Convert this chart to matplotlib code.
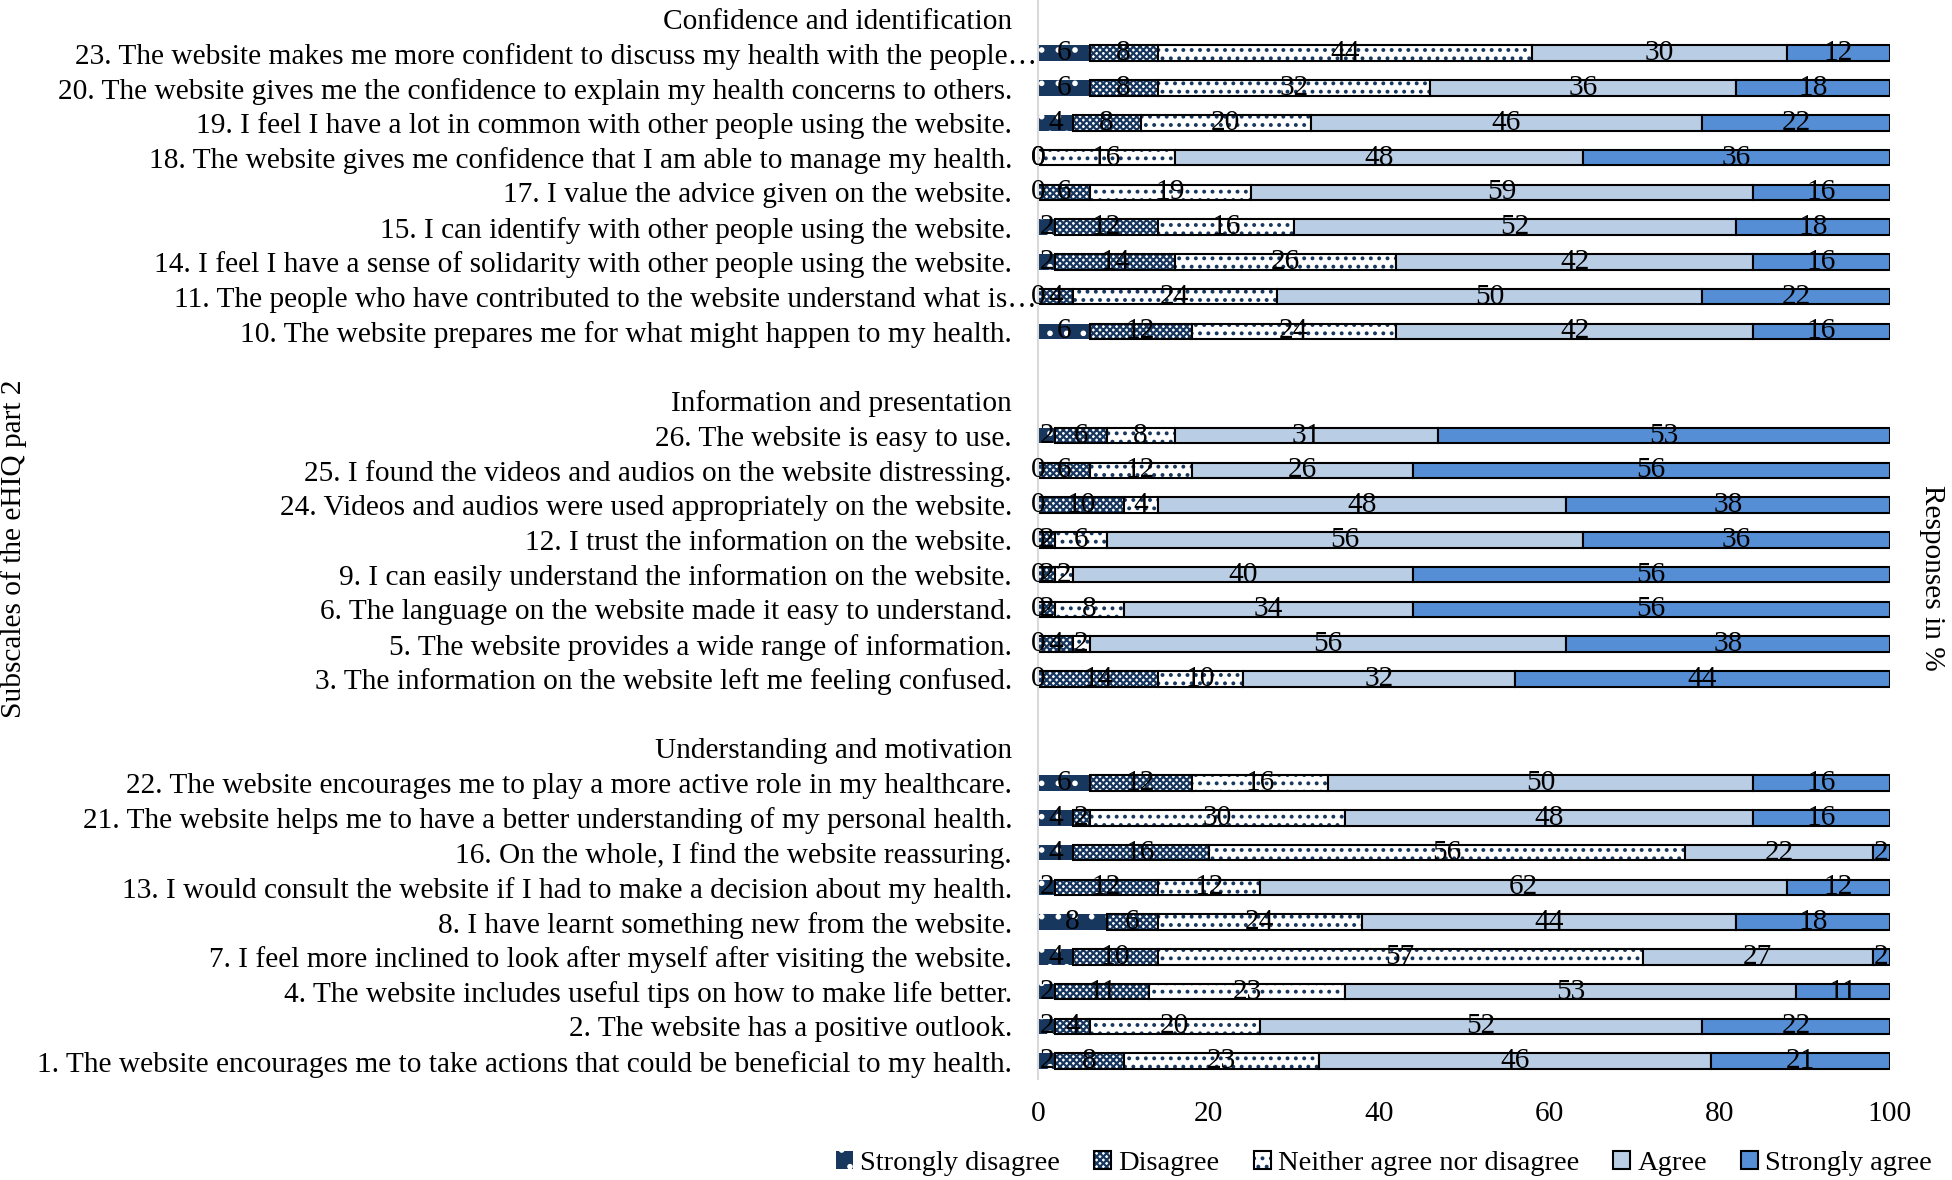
import matplotlib
matplotlib.use("Agg")
import matplotlib.pyplot as plt
import matplotlib.transforms as mtransforms
from matplotlib.patches import Patch
import numpy as np

FS = 21.2
plt.rcParams["font.family"] = ["Liberation Serif", "DejaVu Serif"]
plt.rcParams["font.size"] = FS
plt.rcParams["hatch.linewidth"] = 1.6

# subscale headers
groups = ["Confidence and identification", "Information and presentation",
          "Understanding and motivation"]

items_conf = [
  "23. The website makes me more confident to discuss my health with the people\u2026",
  "20. The website gives me the confidence to explain my health concerns to others.",
  "19. I feel I have a lot in common with other people using the website.",
  "18. The website gives me confidence that I am able to manage my health.",
  "17. I value the advice given on the website.",
  "15. I can identify with other people using the website.",
  "14. I feel I have a sense of solidarity with other people using the website.",
  "11. The people who have contributed to the website understand what is\u2026",
  "10. The website prepares me for what might happen to my health.",
]
items_info = [
  "26. The website is easy to use.",
  "25. I found the videos and audios on the website distressing.",
  "24. Videos and audios were used appropriately on the website.",
  "12. I trust the information on the website.",
  "9. I can easily understand the information on the website.",
  "6. The language on the website made it easy to understand.",
  "5. The website provides a wide range of information.",
  "3. The information on the website left me feeling confused.",
]
items_und = [
  "22. The website encourages me to play a more active role in my healthcare.",
  "21. The website helps me to have a better understanding of my personal health.",
  "16. On the whole, I find the website reassuring.",
  "13. I would consult the website if I had to make a decision about my health.",
  "8. I have learnt something new from the website.",
  "7. I feel more inclined to look after myself after visiting the website.",
  "4. The website includes useful tips on how to make life better.",
  "2. The website has a positive outlook.",
  "1. The website encourages me to take actions that could be beneficial to my health.",
]

levels = ["Strongly disagree", "Disagree", "Neither agree nor disagree", "Agree", "Strongly agree"]

# percentages, items in the order above (conf, info, und)
strongly_disagree = [6, 6, 4, 0, 0, 2, 2, 0, 6,
                     2, 0, 0, 0, 0, 0, 0, 0,
                     6, 4, 4, 2, 8, 4, 2, 2, 2]
disagree = [8, 8, 8, 0, 6, 12, 14, 4, 12,
            6, 6, 10, 2, 2, 2, 4, 14,
            12, 2, 16, 12, 6, 10, 11, 4, 8]
neither = [44, 32, 20, 16, 19, 16, 26, 24, 24,
           8, 12, 4, 6, 2, 8, 2, 10,
           16, 30, 56, 12, 24, 57, 23, 20, 23]
agree = [30, 36, 46, 48, 59, 52, 42, 50, 42,
         31, 26, 48, 56, 40, 34, 56, 32,
         50, 48, 22, 62, 44, 27, 53, 52, 46]
strongly_agree = [12, 18, 22, 36, 16, 18, 16, 22, 16,
                  53, 56, 38, 36, 56, 56, 38, 44,
                  16, 16, 2, 12, 18, 2, 11, 22, 21]

navy = "#17375E"
styles = [
  dict(fc=navy, hatch=".", hc="white", edge=False),
  dict(fc="white", hatch="xxxxx", hc=navy, edge=True),
  dict(fc="white", hatch="..", hc=navy, edge=True),
  dict(fc="#B9CDE5", hatch="", hc="#B9CDE5", edge=True),
  dict(fc="#558ED5", hatch="", hc="#558ED5", edge=True),
]

# row layout: header, items, blank row between groups
tick_labels = []
item_pos = []
row = 0
for g, items in zip(groups, [items_conf, items_info, items_und]):
  if row > 0:
    tick_labels.append("")
    row += 1
  tick_labels.append(g)
  row += 1
  for it in items:
    tick_labels.append(it)
    item_pos.append(row)
    row += 1
item_pos = np.array(item_pos)

fig = plt.figure(figsize=(19.52, 11.80), dpi=100)
ax = fig.add_axes([0.532, 0.086, 0.436, 0.913])

series = [strongly_disagree, disagree, neither, agree, strongly_agree]
left = np.zeros(len(item_pos))
h = 0.45
for vals, st in zip(series, styles):
  vals = np.array(vals, dtype=float)
  bars = ax.barh(item_pos, vals, left=left, height=h, color=st["fc"],
                 hatch=st["hatch"] or None, edgecolor=st["hc"], linewidth=0)
  if st["edge"]:
    ax.barh(item_pos, vals, left=left, height=h, fill=False,
            edgecolor="black", linewidth=1.5)
  ax.bar_label(bars, labels=[f"{v:g}" for v in vals], label_type="center",
               fontsize=FS, color="black")
  left += vals

ax.set_xlim(0, 100)
ax.set_ylim(len(tick_labels) - 0.5, -0.5)
ax.set_xticks(np.arange(0, 101, 20))
ax.set_yticks(np.arange(len(tick_labels)))
ax.set_yticklabels(tick_labels)
ax.tick_params(axis="both", length=0)
ax.tick_params(axis="y", pad=19)
ax.tick_params(axis="x", pad=16)
for s in ["top", "right", "bottom"]:
  ax.spines[s].set_visible(False)
ax.spines["left"].set_color("#D9D9D9")
ax.spines["left"].set_linewidth(1.5)

# truncated labels overflow to the right like in the original
for lab in ax.get_yticklabels():
  if lab.get_text().endswith("\u2026"):
    lab.set_transform(lab.get_transform() +
                      mtransforms.ScaledTranslation(25 / 100, 0, fig.dpi_scale_trans))

fig.text(0.007, 0.535, "Subscales of the eHIQ part 2", rotation=90,
         ha="center", va="center", fontsize=FS)
fig.text(0.99, 0.51, "Responses in %", rotation=270,
         ha="center", va="center", fontsize=FS)

handles = []
for st in styles:
  fill = Patch(facecolor=st["fc"], hatch=st["hatch"] or None, edgecolor=st["hc"], linewidth=0)
  if st["edge"]:
    handles.append((fill, Patch(fill=False, edgecolor="black", linewidth=1.5)))
  else:
    handles.append(fill)
fig.legend(handles, levels, loc="center", bbox_to_anchor=(0.709, 0.014), ncol=5,
           frameon=False, handlelength=0.6, handleheight=0.6, handletextpad=0.25,
           columnspacing=1.2, fontsize=20.5)

fig.savefig("out.png", dpi=100)
